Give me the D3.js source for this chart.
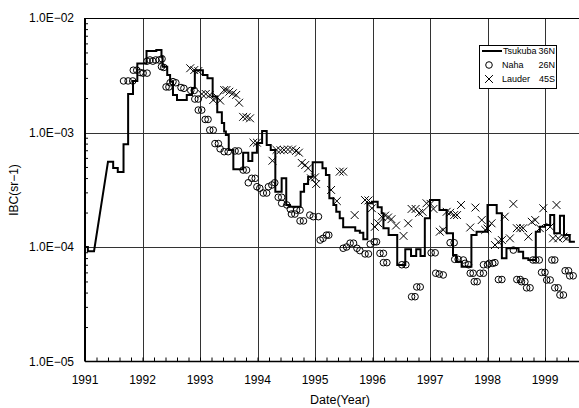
<!DOCTYPE html>
<html>
<head>
<meta charset="utf-8">
<script src="https://cdn.jsdelivr.net/npm/d3@7"></script>
<style>
  body { margin: 0; background: #fff; }
  svg text { font-family: "Liberation Sans", Arial, sans-serif; fill: #000; }
</style>
</head>
<body>
<div id="chart"></div>
<script>
// Tsukuba 36N: step series (start of each step), the step at rampIndex is drawn as a slope
const tsukubaYear = [1991.00, 1991.05, 1991.157, 1991.40, 1991.49, 1991.57, 1991.67, 1991.75, 1991.835, 1991.91,
  1992.07, 1992.24, 1992.33, 1992.35, 1992.43, 1992.48, 1992.53, 1992.60, 1992.77, 1992.86, 1992.91,
  1993.05, 1993.13, 1993.22, 1993.30, 1993.38, 1993.42, 1993.45, 1993.50, 1993.58, 1993.75, 1993.84, 1993.91, 1993.99,
  1994.08, 1994.16, 1994.23, 1994.31, 1994.42, 1994.50, 1994.565, 1994.75, 1994.81, 1994.88, 1994.96,
  1995.13, 1995.19, 1995.25, 1995.32, 1995.37, 1995.43, 1995.49, 1995.70, 1995.78, 1995.84, 1995.91, 1995.99,
  1996.09, 1996.16, 1996.19, 1996.28, 1996.43, 1996.57, 1996.67, 1996.76, 1996.835, 1996.91,
  1997.00, 1997.165, 1997.29, 1997.40, 1997.46, 1997.55, 1997.72, 1997.81,
  1998.00, 1998.16, 1998.25, 1998.33, 1998.54, 1998.62, 1998.71, 1998.84, 1998.91,
  1999.00, 1999.09, 1999.16, 1999.26, 1999.33, 1999.43];
const tsukubaIBC = [1.0e-4, 9.2e-5, 9.2e-5, 5.56e-4, 4.9e-4, 4.52e-4, 7.9e-4, 2.17e-3, 2.82e-3, 4.0e-3,
  5.15e-3, 5.25e-3, 4.6e-3, 3.76e-3, 3.18e-3, 2.78e-3, 2.13e-3, 1.92e-3, 2.13e-3, 2.45e-3, 3.5e-3,
  3.18e-3, 2.97e-3, 2.06e-3, 1.5e-3, 1.21e-3, 1.02e-3, 9.5e-4, 7.03e-4, 4.77e-4, 6.67e-4, 5.63e-4, 6.67e-4, 8.1e-4,
  1.03e-3, 7.78e-4, 7.03e-4, 3.04e-4, 3.98e-4, 2.33e-4, 2.25e-4, 3.04e-4, 3.55e-4, 4.11e-4, 5.5e-4,
  4.87e-4, 4.26e-4, 2.66e-4, 2.33e-4, 2.03e-4, 1.78e-4, 1.49e-4, 1.39e-4, 1.33e-4, 1.17e-4, 2.41e-4, 2.49e-4,
  2.22e-4, 1.97e-4, 1.46e-4, 1.27e-4, 6.97e-5, 9.55e-5, 8.35e-5, 9.55e-5, 8.35e-5, 1.78e-4,
  2.57e-4, 2.1e-4, 1.32e-4, 8.5e-5, 7.44e-5, 6.73e-5, 1.27e-4, 1.36e-4,
  2.33e-4, 1.97e-4, 7.97e-5, 9.75e-5, 9.1e-5, 7.97e-5, 7.7e-5, 1.36e-4, 1.5e-4,
  1.56e-4, 1.9e-4, 1.32e-4, 1.87e-4, 1.27e-4, 1.11e-4];
const tsukubaEnd = 1999.52;
const rampIndex = 2;

// Naha 26N
const nahaYear = [1991.67, 1991.75, 1991.83, 1991.84, 1991.90, 1991.96, 1992.01, 1992.08, 1992.08, 1992.13,
  1992.18, 1992.23, 1992.29, 1992.34, 1992.33, 1992.37, 1992.41, 1992.46, 1992.48, 1992.53,
  1992.58, 1992.67, 1992.72, 1992.84, 1992.90, 1992.91, 1992.97, 1992.97, 1993.03, 1993.09,
  1993.14, 1993.17, 1993.23, 1993.26, 1993.32, 1993.35, 1993.42, 1993.49, 1993.61, 1993.67,
  1993.75, 1993.81, 1993.84, 1993.90, 1993.96, 1993.99, 1994.04, 1994.10, 1994.16, 1994.19,
  1994.25, 1994.30, 1994.36, 1994.42, 1994.42, 1994.51, 1994.57, 1994.59, 1994.65, 1994.68,
  1994.74, 1994.74, 1994.80, 1994.91, 1994.97, 1995.06, 1995.09, 1995.14, 1995.20, 1995.24,
  1995.49, 1995.55, 1995.61, 1995.67, 1995.73, 1995.78, 1995.87, 1995.93, 1995.96, 1996.03,
  1996.07, 1996.13, 1996.19, 1996.19, 1996.25, 1996.51, 1996.58, 1996.68, 1996.74, 1996.77,
  1996.83, 1997.02, 1997.09, 1997.10, 1997.16, 1997.23, 1997.35, 1997.42, 1997.43, 1997.49,
  1997.58, 1997.61, 1997.67, 1997.70, 1997.75, 1997.77, 1997.82, 1997.87, 1997.93, 1997.93,
  1998.00, 1998.03, 1998.09, 1998.13, 1998.19, 1998.25, 1998.45, 1998.51, 1998.57, 1998.59,
  1998.65, 1998.68, 1998.74, 1998.79, 1998.84, 1998.90, 1998.94, 1999.00, 1999.03, 1999.09,
  1999.12, 1999.17, 1999.17, 1999.23, 1999.26, 1999.32, 1999.35, 1999.41, 1999.43, 1999.49];
const nahaIBC = [2.82e-3, 2.82e-3, 2.82e-3, 3.5e-3, 3.5e-3, 3.34e-3, 3.3e-3, 3.3e-3, 4.2e-3, 4.3e-3,
  4.2e-3, 4.3e-3, 4.3e-3, 4.4e-3, 3.76e-3, 3.7e-3, 2.5e-3, 2.5e-3, 2.72e-3, 2.78e-3,
  2.72e-3, 2.47e-3, 2.43e-3, 2.33e-3, 2.33e-3, 1.96e-3, 1.96e-3, 1.57e-3, 1.57e-3, 1.3e-3,
  1.3e-3, 1.05e-3, 1.05e-3, 8.0e-4, 8.0e-4, 7.2e-4, 6.8e-4, 6.8e-4, 6.9e-4, 6.9e-4,
  4.7e-4, 4.7e-4, 3.64e-4, 3.98e-4, 3.98e-4, 3.36e-4, 3.26e-4, 2.96e-4, 2.96e-4, 3.36e-4,
  3.48e-4, 3.64e-4, 2.72e-4, 2.72e-4, 2.41e-4, 2.33e-4, 2.14e-4, 1.94e-4, 1.94e-4, 2.1e-4,
  2.1e-4, 1.69e-4, 1.69e-4, 1.9e-4, 1.84e-4, 1.84e-4, 1.15e-4, 1.19e-4, 1.27e-4, 1.27e-4,
  9.75e-5, 1.0e-4, 1.08e-4, 1.08e-4, 9.75e-5, 9.3e-5, 8.7e-5, 8.7e-5, 1.06e-4, 1.11e-4,
  1.11e-4, 8.8e-5, 8.8e-5, 7.3e-5, 7.3e-5, 7.0e-5, 7.0e-5, 3.68e-5, 3.68e-5, 4.48e-5,
  4.48e-5, 8.9e-5, 8.9e-5, 5.9e-5, 5.8e-5, 5.7e-5, 1.09e-4, 1.09e-4, 7.8e-5, 7.8e-5,
  7.7e-5, 7.2e-5, 7.0e-5, 5.9e-5, 5.9e-5, 4.98e-5, 4.98e-5, 5.9e-5, 5.9e-5, 7.0e-5,
  7.0e-5, 7.2e-5, 7.2e-5, 7.3e-5, 5.2e-5, 5.2e-5, 9.4e-5, 5.2e-5, 5.2e-5, 4.98e-5,
  4.98e-5, 4.4e-5, 4.4e-5, 7.7e-5, 7.7e-5, 7.7e-5, 6.0e-5, 6.0e-5, 5.15e-5, 5.15e-5,
  7.7e-5, 7.7e-5, 4.4e-5, 4.4e-5, 3.81e-5, 3.81e-5, 6.2e-5, 6.2e-5, 5.6e-5, 5.6e-5];

// Lauder 45S
const lauderYear = [1992.83, 1992.90, 1992.97, 1993.03, 1993.10, 1993.17, 1993.23, 1993.30, 1993.35, 1993.42,
  1993.46, 1993.51, 1993.57, 1993.63, 1993.68, 1993.75, 1993.81, 1993.87, 1993.93, 1993.99,
  1994.26, 1994.33, 1994.40, 1994.46, 1994.53, 1994.60, 1994.67, 1994.72, 1994.77, 1994.83,
  1994.88, 1994.93, 1995.00, 1995.02, 1995.28, 1995.38, 1995.43, 1995.49, 1995.69, 1995.87,
  1995.93, 1995.99, 1996.04, 1996.10, 1996.16, 1996.22, 1996.27, 1996.33, 1996.41, 1996.54,
  1996.62, 1996.68, 1996.75, 1996.81, 1996.87, 1996.94, 1997.01, 1997.06, 1997.17, 1997.23,
  1997.29, 1997.35, 1997.42, 1997.47, 1997.54, 1997.70, 1997.79, 1997.90, 1997.96, 1998.00,
  1998.07, 1998.13, 1998.19, 1998.25, 1998.30, 1998.39, 1998.45, 1998.51, 1998.57, 1998.62,
  1998.71, 1998.77, 1998.83, 1998.91, 1998.97, 1999.09, 1999.14, 1999.20, 1999.23, 1999.32,
  1999.38];
const lauderIBC = [3.64e-3, 3.51e-3, 3.44e-3, 2.17e-3, 2.17e-3, 2.13e-3, 1.92e-3, 2.03e-3, 1.9e-3, 2.35e-3,
  2.35e-3, 2.27e-3, 2.2e-3, 2.13e-3, 1.82e-3, 1.37e-3, 1.36e-3, 1.33e-3, 8.15e-4, 8.15e-4,
  5.67e-4, 7.05e-4, 7.0e-4, 7.05e-4, 7.1e-4, 7.1e-4, 6.9e-4, 6.67e-4, 5.42e-4, 5.2e-4,
  4.87e-4, 3.98e-4, 4.06e-4, 3.55e-4, 3.15e-4, 2.52e-4, 4.55e-4, 4.55e-4, 1.9e-4, 2.57e-4,
  2.55e-4, 2.18e-4, 1.5e-4, 1.61e-4, 1.84e-4, 1.88e-4, 1.81e-4, 1.75e-4, 1.54e-4, 1.25e-4,
  1.61e-4, 2.15e-4, 2.15e-4, 1.98e-4, 2.03e-4, 2.41e-4, 2.38e-4, 2.15e-4, 1.36e-4, 1.41e-4,
  2.03e-4, 1.99e-4, 1.9e-4, 1.9e-4, 2.33e-4, 1.48e-4, 2.21e-4, 1.72e-4, 1.41e-4, 1.45e-4,
  1.61e-4, 1.04e-4, 1.11e-4, 1.15e-4, 1.84e-4, 1.19e-4, 2.38e-4, 1.46e-4, 1.46e-4, 1.46e-4,
  1.23e-4, 1.66e-4, 1.72e-4, 1.46e-4, 2.18e-4, 1.5e-4, 1.19e-4, 2.33e-4, 1.19e-4, 1.23e-4,
  1.19e-4];

const yTickValues = [1e-2, 1e-3, 1e-4, 1e-5];
const yTickLabels = ['1.0E−02', '1.0E−03', '1.0E−04', '1.0E−05'];
const xTickYears = [1991, 1992, 1993, 1994, 1995, 1996, 1997, 1998, 1999];
const legendNames = ['Tsukuba', 'Naha', 'Lauder'];
const legendLats = ['36N', '26N', '45S'];

const width = 579, height = 408;
const margin = {left: 85, top: 18, right: 0, bottom: 47};

const svg = d3.select('#chart').append('svg')
    .attr('width', width)
    .attr('height', height);

const x = d3.scaleLinear().domain([1991, 1999.6]).range([margin.left, width + 0.5]);
const y = d3.scaleLog().domain([1e-5, 1e-2]).range([height - margin.bottom + 0.5, margin.top]);

// gridlines
svg.append('g')
    .selectAll('line')
    .data(xTickYears.slice(1))
    .join('line')
    .attr('x1', d => Math.round(x(d)) + 0.5).attr('x2', d => Math.round(x(d)) + 0.5)
    .attr('y1', y(1e-2)).attr('y2', y(1e-5))
    .attr('stroke', '#333').attr('stroke-width', 1);

svg.append('g')
    .selectAll('line')
    .data([1e-3, 1e-4])
    .join('line')
    .attr('x1', x(1991)).attr('x2', width)
    .attr('y1', d => Math.round(y(d)) + 0.5).attr('y2', d => Math.round(y(d)) + 0.5)
    .attr('stroke', '#333').attr('stroke-width', 1);

// top frame
svg.append('line')
    .attr('x1', x(1991)).attr('x2', width)
    .attr('y1', y(1e-2) + 0.5).attr('y2', y(1e-2) + 0.5)
    .attr('stroke', '#000').attr('stroke-width', 1);

// x axis with inner minor ticks every 0.2 year
const xAxis = d3.axisBottom(x)
    .tickValues(d3.range(0, 44).map(i => 1991 + i * 0.2))
    .tickSize(-4)
    .tickFormat('');
svg.append('g')
    .attr('transform', `translate(0,${y(1e-5)})`)
    .call(xAxis)
    .call(g => g.select('.domain').attr('stroke-width', 1.5).attr('d', `M${x(1991)},0H${width}`));

svg.append('g')
    .selectAll('text')
    .data(xTickYears)
    .join('text')
    .attr('x', d => x(d))
    .attr('y', 384)
    .attr('text-anchor', 'middle')
    .style('font-size', '12px')
    .text(d => d);

// y axis with inner minor ticks
const minor = [];
[1e-5, 1e-4, 1e-3].forEach(dec => {
    for (let k = 2; k <= 9; k++) minor.push(dec * k);
});
const yAxis = d3.axisLeft(y)
    .tickValues(minor)
    .tickSize(-3)
    .tickFormat('');
svg.append('g')
    .attr('transform', `translate(${x(1991)},0)`)
    .call(yAxis)
    .call(g => g.select('.domain').attr('stroke-width', 2).attr('d', `M0,${y(1e-5)}V${y(1e-2)}`));

svg.append('g')
    .selectAll('text')
    .data(yTickValues)
    .join('text')
    .attr('x', 74)
    .attr('y', d => y(d))
    .attr('dy', '0.35em')
    .attr('text-anchor', 'end')
    .style('font-size', '12px')
    .text((d, i) => yTickLabels[i]);

// axis titles
svg.append('text')
    .attr('transform', `translate(18,190) rotate(-90)`)
    .attr('text-anchor', 'middle')
    .style('font-size', '12px')
    .text('IBC(sr−1)');

svg.append('text')
    .attr('x', 340)
    .attr('y', 404)
    .attr('text-anchor', 'middle')
    .style('font-size', '12.5px')
    .text('Date(Year)');

// Tsukuba stepped line
const pts = [];
tsukubaYear.forEach((yr, i) => {
    pts.push([yr, tsukubaIBC[i]]);
    if (i === rampIndex) return;
    const next = i < tsukubaYear.length - 1 ? tsukubaYear[i + 1] : tsukubaEnd;
    pts.push([next, tsukubaIBC[i]]);
});

const line = d3.line()
    .x(d => x(d[0]))
    .y(d => y(d[1]));

svg.append('path')
    .datum(pts)
    .attr('d', line)
    .attr('fill', 'none')
    .attr('stroke', '#000')
    .attr('stroke-width', 2)
    .attr('stroke-linejoin', 'miter');

// Naha circles
svg.append('g')
    .selectAll('circle')
    .data(nahaYear.map((yr, i) => [yr, nahaIBC[i]]))
    .join('circle')
    .attr('cx', d => x(d[0]))
    .attr('cy', d => y(d[1]))
    .attr('r', 3.3)
    .attr('fill', 'none')
    .attr('stroke', '#000')
    .attr('stroke-width', 1);

// Lauder crosses
const cross = d3.symbol().type(d3.symbolX).size(42);
svg.append('g')
    .selectAll('path')
    .data(lauderYear.map((yr, i) => [yr, lauderIBC[i]]))
    .join('path')
    .attr('transform', d => `translate(${x(d[0])},${y(d[1])})`)
    .attr('d', cross)
    .attr('fill', 'none')
    .attr('stroke', '#000')
    .attr('stroke-width', 1);

// legend
const lg = svg.append('g');
lg.append('rect')
    .attr('x', 479.5).attr('y', 45.5)
    .attr('width', 77).attr('height', 43)
    .attr('fill', '#fff')
    .attr('stroke', '#000');

const rowY = [51, 65, 79];
lg.append('line')
    .attr('x1', 482).attr('x2', 502)
    .attr('y1', rowY[0]).attr('y2', rowY[0])
    .attr('stroke', '#000').attr('stroke-width', 2);
lg.append('circle')
    .attr('cx', 489).attr('cy', rowY[1]).attr('r', 3.3)
    .attr('fill', 'none').attr('stroke', '#000');
lg.append('path')
    .attr('transform', `translate(489,${rowY[2]})`)
    .attr('d', cross)
    .attr('fill', 'none').attr('stroke', '#000');

lg.selectAll('text.name')
    .data(legendNames)
    .join('text')
    .attr('class', 'name')
    .attr('x', (d, i) => i === 0 ? 503 : 502)
    .attr('y', (d, i) => rowY[i])
    .attr('dy', '0.35em')
    .style('font-size', '9px')
    .text(d => d);

lg.selectAll('text.lat')
    .data(legendLats)
    .join('text')
    .attr('class', 'lat')
    .attr('x', 555)
    .attr('y', (d, i) => rowY[i])
    .attr('dy', '0.35em')
    .attr('text-anchor', 'end')
    .style('font-size', '9px')
    .text(d => d);
</script>
</body>
</html>
